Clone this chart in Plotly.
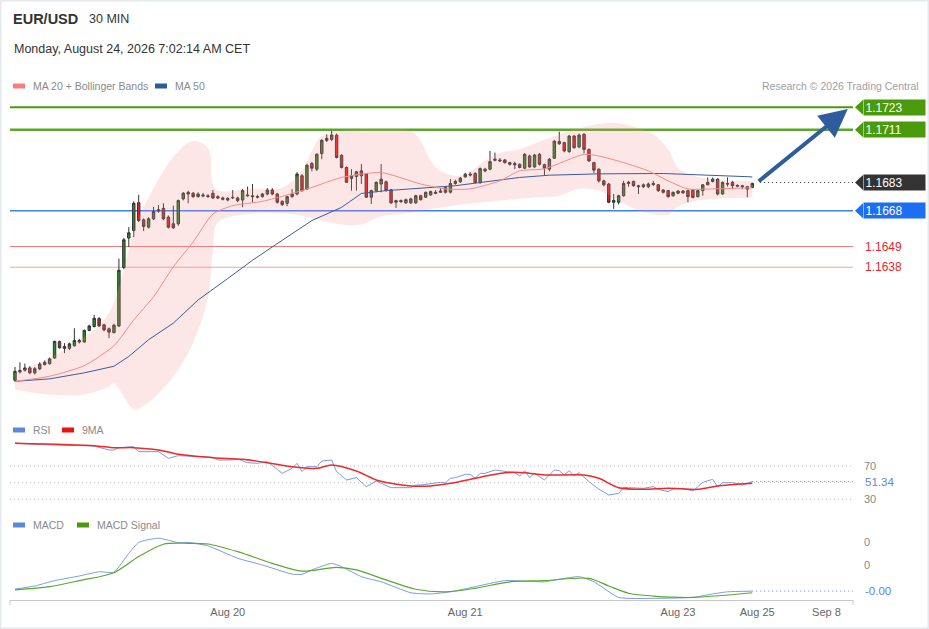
import plotly.graph_objects as go

W, H = 929, 629

# ---------------- data ----------------
candle_open = [1.15780,1.15824,1.15833,1.15845,1.15819,1.15840,1.15863,1.15868,1.15898,1.15985,
               1.15959,1.15949,1.15963,1.15991,1.15983,1.16044,1.16065,1.16107,1.16074,1.16053,
               1.16033,1.16068,1.16378,1.16535,1.16575,1.16723,1.16632,1.16593,1.16637,1.16678,
               1.16693,1.16646,1.16611,1.16611,1.16743,1.16778,1.16773,1.16755,1.16764,1.16760,
               1.16773,1.16755,1.16748,1.16746,1.16748,1.16748,1.16737,1.16764,1.16760,1.16752,
               1.16755,1.16769,1.16790,1.16769,1.16730,1.16720,1.16755,1.16769,1.16866,1.16795,
               1.16931,1.16901,1.16984,1.17054,1.17059,1.17081,1.16975,1.16910,1.16852,1.16862,
               1.16892,1.16875,1.16752,1.16787,1.16822,1.16834,1.16792,1.16725,1.16728,1.16722,
               1.16722,1.16722,1.16760,1.16752,1.16764,1.16772,1.16778,1.16804,1.16779,1.16825,
               1.16834,1.16860,1.16869,1.16878,1.16830,1.16901,1.16901,1.16948,1.16950,1.16950,
               1.16936,1.16931,1.16927,1.16906,1.16971,1.16913,1.16980,1.16925,1.16901,1.16959,
               1.17048,1.17042,1.16994,1.17077,1.17019,1.17086,1.17006,1.16936,1.16901,1.16839,
               1.16822,1.16725,1.16725,1.16760,1.16825,1.16836,1.16813,1.16808,1.16808,1.16818,
               1.16818,1.16790,1.16787,1.16760,1.16773,1.16785,1.16787,1.16790,1.16755,1.16787,
               1.16818,1.16836,1.16848,1.16769,1.16825,1.16831,1.16815,1.16813,1.16808,1.16804]
candle_high = [1.15850,1.15875,1.15868,1.15855,1.15850,1.15875,1.15885,1.15900,1.15990,1.15990,
               1.15977,1.15980,1.16056,1.16000,1.16050,1.16075,1.16127,1.16115,1.16080,1.16060,
               1.16080,1.16426,1.16535,1.16593,1.16730,1.16765,1.16640,1.16645,1.16700,1.16710,
               1.16720,1.16655,1.16707,1.16740,1.16780,1.16787,1.16780,1.16778,1.16775,1.16768,
               1.16790,1.16762,1.16755,1.16752,1.16790,1.16755,1.16795,1.16808,1.16822,1.16765,
               1.16775,1.16800,1.16800,1.16775,1.16735,1.16760,1.16795,1.16885,1.16875,1.16930,
               1.16940,1.16985,1.17060,1.17086,1.17104,1.17090,1.16980,1.16915,1.16901,1.16892,
               1.16928,1.16880,1.16792,1.16836,1.16928,1.16840,1.16796,1.16738,1.16740,1.16745,
               1.16750,1.16765,1.16765,1.16782,1.16787,1.16790,1.16800,1.16810,1.16848,1.16845,
               1.16860,1.16882,1.16885,1.16885,1.16910,1.16908,1.16998,1.16989,1.16960,1.16955,
               1.16940,1.16941,1.16932,1.16986,1.16978,1.16982,1.16986,1.16930,1.16960,1.17055,
               1.17100,1.17046,1.17082,1.17082,1.17090,1.17092,1.17010,1.16940,1.16905,1.16845,
               1.16828,1.16769,1.16765,1.16839,1.16839,1.16840,1.16818,1.16825,1.16830,1.16839,
               1.16822,1.16795,1.16790,1.16782,1.16790,1.16790,1.16792,1.16795,1.16792,1.16822,
               1.16857,1.16857,1.16852,1.16835,1.16857,1.16839,1.16820,1.16818,1.16812,1.16830]
candle_low = [1.15770,1.15815,1.15826,1.15812,1.15810,1.15833,1.15858,1.15862,1.15893,1.15948,
              1.15924,1.15940,1.15958,1.15975,1.15978,1.16040,1.16060,1.16062,1.16040,1.16003,
              1.16028,1.16062,1.16370,1.16487,1.16540,1.16620,1.16572,1.16585,1.16630,1.16670,
              1.16630,1.16585,1.16583,1.16600,1.16735,1.16720,1.16748,1.16750,1.16752,1.16750,
              1.16742,1.16742,1.16735,1.16730,1.16742,1.16725,1.16699,1.16755,1.16725,1.16745,
              1.16750,1.16762,1.16762,1.16718,1.16705,1.16705,1.16750,1.16762,1.16780,1.16790,
              1.16890,1.16890,1.16954,1.17045,1.17050,1.16958,1.16905,1.16828,1.16787,1.16787,
              1.16822,1.16748,1.16716,1.16778,1.16778,1.16782,1.16716,1.16695,1.16722,1.16716,
              1.16716,1.16716,1.16734,1.16748,1.16760,1.16768,1.16775,1.16772,1.16772,1.16818,
              1.16828,1.16855,1.16862,1.16825,1.16822,1.16885,1.16895,1.16942,1.16940,1.16930,
              1.16920,1.16901,1.16905,1.16901,1.16908,1.16908,1.16920,1.16866,1.16890,1.16955,
              1.17030,1.16990,1.16988,1.17010,1.17012,1.16985,1.16940,1.16880,1.16830,1.16810,
              1.16720,1.16690,1.16713,1.16755,1.16808,1.16808,1.16769,1.16800,1.16800,1.16813,
              1.16780,1.16772,1.16750,1.16755,1.16768,1.16770,1.16725,1.16745,1.16750,1.16760,
              1.16815,1.16830,1.16762,1.16765,1.16808,1.16795,1.16805,1.16795,1.16751,1.16800]
candle_close = [1.15827,1.15831,1.15845,1.15819,1.15841,1.15866,1.15875,1.15893,1.15986,1.15952,
                1.15949,1.15973,1.15991,1.15983,1.16044,1.16068,1.16109,1.16068,1.16047,1.16035,
                1.16072,1.16364,1.16526,1.16563,1.16720,1.16628,1.16597,1.16637,1.16676,1.16685,
                1.16637,1.16593,1.16590,1.16734,1.16773,1.16769,1.16755,1.16769,1.16759,1.16755,
                1.16748,1.16748,1.16741,1.16737,1.16751,1.16734,1.16787,1.16760,1.16755,1.16755,
                1.16769,1.16790,1.16769,1.16725,1.16713,1.16755,1.16769,1.16875,1.16787,1.16922,
                1.16906,1.16980,1.17054,1.17065,1.17082,1.16963,1.16910,1.16831,1.16866,1.16887,
                1.16866,1.16752,1.16787,1.16831,1.16848,1.16787,1.16722,1.16734,1.16734,1.16739,
                1.16743,1.16760,1.16739,1.16778,1.16782,1.16778,1.16785,1.16778,1.16825,1.16836,
                1.16853,1.16874,1.16874,1.16830,1.16904,1.16892,1.16941,1.16954,1.16945,1.16936,
                1.16927,1.16924,1.16910,1.16980,1.16913,1.16976,1.16927,1.16906,1.16954,1.17050,
                1.17036,1.16998,1.17077,1.17015,1.17082,1.17006,1.16945,1.16896,1.16839,1.16818,
                1.16725,1.16735,1.16760,1.16825,1.16831,1.16813,1.16808,1.16818,1.16822,1.16825,
                1.16787,1.16778,1.16755,1.16778,1.16785,1.16775,1.16755,1.16751,1.16787,1.16818,
                1.16831,1.16848,1.16769,1.16831,1.16822,1.16813,1.16811,1.16808,1.16795,1.16825]
candle_idx = list(range(len(candle_close)))

ma20_idx = [0,7,14,20,24,28,32,36,40,44,50,55,60,66,74,82,87,92,98,102,107,115,118,123,128,132,136,141,149]
ma20_val = [1.15774,1.15801,1.15857,1.15963,1.16100,1.16223,1.16382,1.16514,1.16663,1.16707,1.16730,
            1.16764,1.16804,1.16857,1.16883,1.16822,1.16796,1.16796,1.16839,1.16892,1.16903,1.16980,
            1.16971,1.16936,1.16892,1.16839,1.16796,1.16796,1.16802]

ma50_idx = [0,7,14,20,23,27,32,37,43,48,54,60,66,70,75,82,89,94,102,108,118,131,141,149]
ma50_val = [1.15774,1.15787,1.15819,1.15854,1.15906,1.15995,1.16083,1.16206,1.16320,1.16417,1.16523,
            1.16628,1.16698,1.16772,1.16787,1.16799,1.16813,1.16830,1.16857,1.16869,1.16876,1.16878,
            1.16869,1.16860]

bb_up_idx = [0,7,14,19,23,24,27,32,36,39,40,41,48,54,58,60,62,66,74,80,82,84,86,90,95,98,102,108,
             114,121,126,129,132,134,138,149]
bb_up_val = [1.15820,1.15899,1.16010,1.16137,1.16475,1.16575,1.16750,1.16966,1.17050,1.17014,1.16818,
             1.16787,1.16797,1.16802,1.16892,1.16998,1.17077,1.17103,1.17114,1.17103,1.17050,1.16945,
             1.16892,1.16866,1.16945,1.16987,1.17008,1.17066,1.17119,1.17146,1.17119,1.17087,1.17008,
             1.16908,1.16860,1.16839]

bb_lo_idx = [0,7,14,19,20,23,24,27,32,36,39,40,41,48,54,58,62,66,70,74,80,86,92,98,105,110,114,118,
             122,126,132,134,138,149]
bb_lo_val = [1.15731,1.15704,1.15704,1.15746,1.15762,1.15651,1.15625,1.15662,1.15799,1.15979,1.16222,
             1.16470,1.16618,1.16665,1.16665,1.16654,1.16628,1.16607,1.16607,1.16649,1.16670,1.16697,
             1.16718,1.16734,1.16750,1.16760,1.16797,1.16787,1.16734,1.16681,1.16660,1.16702,1.16734,
             1.16750]

rsi_idx = [0,4,8,16,19,20,21,24,25,29,31,33,36,40,41,44,45,47,49,51,54,56,57,58,59,61,62,64,65,67,69,
           71,73,76,80,81,82,84,86,87,88,89,91,92,93,94,95,97,99,101,102,103,104,105,107,109,110,111,
           112,113,114,116,118,120,122,123,124,127,129,130,132,133,135,137,139,141,142,143,145,147,149]
rsi_val = [97.3,96.1,95.2,94.0,89.2,89.2,92.0,93.2,87.2,87.2,79.2,82.4,81.2,80.4,77.2,77.2,78.4,74.0,
           73.2,75.2,61.2,67.2,73.2,63.2,69.2,69.2,76.0,77.2,63.2,53.2,56.0,45.2,52.0,44.0,44.0,47.2,
           47.2,49.2,50.4,49.9,55.2,56.0,60.0,60.0,55.2,61.2,61.2,65.2,63.2,62.0,58.0,64.4,56.0,61.2,
           53.2,65.2,64.4,59.2,64.4,58.4,62.0,51.2,42.4,35.2,37.2,44.4,44.0,43.2,45.2,42.0,39.2,42.4,
           43.2,40.0,50.4,54.0,45.2,50.0,50.0,47.2,51.34]

rsima_idx = [0,16,20,24,29,33,40,46,51,56,61,64,69,73,76,80,84,88,93,97,99,103,107,115,118,122,127,
             132,138,142,149]
rsima_val = [97.3,94.4,92.0,92.0,89.2,84.0,80.0,78.0,74.0,69.2,67.2,71.2,64.0,53.2,49.2,46.0,46.0,49.2,
             55.2,60.0,62.0,62.0,59.2,59.2,55.2,44.0,42.0,43.2,42.0,46.0,49.2]

macd_idx = [0,4,8,13,17,20,23,25,29,33,35,39,45,50,56,58,60,64,66,70,74,80,84,88,93,99,107,110,114,
            117,122,129,137,141,144,149]
macd_val = [-0.00003,0.00010,0.00033,0.00053,0.00071,0.00069,0.00150,0.00197,0.00215,0.00196,0.00197,
            0.00182,0.00129,0.00100,0.00061,0.00060,0.00079,0.00107,0.00093,0.00050,0.00028,-0.00019,
            -0.00024,-0.00015,0.00007,0.00033,0.00028,0.00039,0.00050,0.00028,-0.00039,-0.00043,
            -0.00039,-0.00024,-0.00015,-0.00012]

signal_idx = [0,7,13,20,25,30,35,39,45,52,58,65,69,75,81,87,93,100,107,116,120,124,129,137,149]
signal_val = [-0.00007,0.00007,0.00033,0.00067,0.00136,0.00189,0.00193,0.00190,0.00157,0.00107,0.00074,
              0.00090,0.00079,0.00036,-0.00004,-0.00015,0.00000,0.00028,0.00033,0.00043,0.00010,
              -0.00021,-0.00033,-0.00039,-0.00019]

level_values = [1.1723, 1.1711, 1.1683, 1.1668, 1.1649, 1.1638]
level_labels = ["1.1723", "1.1711", "1.1683", "1.1668", "1.1649", "1.1638"]

tick_idx = [43, 91, 134, 150, 164]
tick_text = ["Aug 20", "Aug 21", "Aug 23", "Aug 25", "Sep 8"]

rsi_ticks = [70, 30]
rsi_grid = [70, 50, 30]
macd_ticks = [0.002, 0.001]
macd_tick_text = ["0", "0"]
target_idx, target_price = 168.3, 1.1722

# ---------------- styling ----------------
FONT = "Liberation Sans, Arial, sans-serif"
def px(x): return x / W
def py(y): return 1 - y / H

X_DOM = [px(10), px(853)]
X_RANGE = [-1.01, 169.36]
Y_RANGE = [1.15595, 1.17295]
level_line = [("#4a9a0c", 2.2), ("#5aa82a", 2.6), (None, 0), ("#3d7ef0", 1.5), ("#f07a7a", 1), ("#f5a5a5", 1.2)]
level_box = ["#4a9a0c", "#4a9a0c", "#333333", "#1c6ef2", None, None]
BLUE_IND = "#5b86e5"

fig = go.Figure()

# Bollinger band fill
fig.add_trace(go.Scatter(x=bb_lo_idx, y=bb_lo_val, mode="lines", line=dict(width=0, shape="spline"),
                         hoverinfo="skip", showlegend=False, xaxis="x", yaxis="y"))
fig.add_trace(go.Scatter(x=bb_up_idx, y=bb_up_val, mode="lines", line=dict(width=0, shape="spline"),
                         fill="tonexty", fillcolor="rgba(248,140,140,0.22)",
                         hoverinfo="skip", showlegend=False, xaxis="x", yaxis="y"))
fig.add_trace(go.Scatter(x=ma50_idx, y=ma50_val, mode="lines", line=dict(width=1, color="#3b5c9c"),
                         hoverinfo="skip", showlegend=False, xaxis="x", yaxis="y"))
fig.add_trace(go.Scatter(x=ma20_idx, y=ma20_val, mode="lines",
                         line=dict(width=1, color="#f58a8a", shape="spline", smoothing=0.6),
                         hoverinfo="skip", showlegend=False, xaxis="x", yaxis="y"))
fig.add_trace(go.Candlestick(x=candle_idx, open=candle_open, high=candle_high, low=candle_low,
                             close=candle_close, whiskerwidth=0,
                             increasing=dict(line=dict(color="#333333", width=1), fillcolor="#2a8a2a"),
                             decreasing=dict(line=dict(color="#333333", width=1), fillcolor="#f01818"),
                             showlegend=False, hoverinfo="skip", xaxis="x", yaxis="y"))

# RSI
fig.add_trace(go.Scatter(x=rsi_idx, y=rsi_val, mode="lines", line=dict(width=1, color="#7b9be6"),
                         hoverinfo="skip", showlegend=False, xaxis="x2", yaxis="y2"))
fig.add_trace(go.Scatter(x=rsima_idx, y=rsima_val, mode="lines",
                         line=dict(width=1.5, color="#f02828", shape="spline", smoothing=0.7),
                         hoverinfo="skip", showlegend=False, xaxis="x2", yaxis="y2"))
# MACD
fig.add_trace(go.Scatter(x=macd_idx, y=macd_val, mode="lines",
                         line=dict(width=1, color="#7b9be6", shape="spline", smoothing=0.5),
                         hoverinfo="skip", showlegend=False, xaxis="x3", yaxis="y3"))
fig.add_trace(go.Scatter(x=signal_idx, y=signal_val, mode="lines",
                         line=dict(width=1.2, color="#5aa82a", shape="spline", smoothing=0.8),
                         hoverinfo="skip", showlegend=False, xaxis="x3", yaxis="y3"))

shapes = []
annotations = []

# frame
shapes.append(dict(type="rect", xref="paper", yref="paper", x0=0, x1=1, y0=0, y1=1,
                   line=dict(color="#e4e9ee", width=3), layer="below"))

HALF = 7.5 / 18824.0
for val, lab, (lc, lw), bc in zip(level_values, level_labels, level_line, level_box):
    if lc is not None:
        shapes.append(dict(type="line", xref="x domain", yref="y", x0=0, x1=1, y0=val, y1=val,
                           line=dict(color=lc, width=lw), layer="below"))
    if bc is not None:
        shapes.append(dict(type="path", xref="paper", yref="y",
                           path=f"M{px(863)},{val + HALF} L{px(855)},{val} L{px(863)},{val - HALF} Z",
                           fillcolor=bc, line=dict(width=0)))
        annotations.append(dict(xref="paper", yref="y", x=px(863), y=val, xanchor="left", yanchor="middle",
                                text=lab, showarrow=False, bgcolor=bc, width=58, height=12, borderpad=1.5,
                                align="left", font=dict(family=FONT, size=12, color="white")))
    else:
        annotations.append(dict(xref="paper", yref="y", x=px(863), y=val, xanchor="left", yanchor="middle",
                                text=lab, showarrow=False,
                                font=dict(family=FONT, size=12, color="#e8262b")))

# last price dotted line
shapes.append(dict(type="line", xref="x", yref="y", x0=150.6, x1=X_RANGE[1], y0=level_values[2],
                   y1=level_values[2], line=dict(color="#333333", width=1, dash="1px,3px")))

# RSI grid
for g in rsi_grid:
    shapes.append(dict(type="line", xref="x2 domain", yref="y2", x0=0, x1=1, y0=g, y1=g,
                       line=dict(color="#bbbbbb", width=1, dash="1px,3px"), layer="below"))
shapes.append(dict(type="line", xref="x2", yref="y2", x0=rsi_idx[-1], x1=X_RANGE[1], y0=rsi_val[-1],
                   y1=rsi_val[-1], line=dict(color=BLUE_IND, width=1, dash="1px,3px")))
shapes.append(dict(type="line", xref="x3", yref="y3", x0=macd_idx[-1], x1=X_RANGE[1], y0=macd_val[-1],
                   y1=macd_val[-1], line=dict(color=BLUE_IND, width=1, dash="1px,3px")))
# end ticks on bottom axis
for xx in (0, 1):
    shapes.append(dict(type="line", xref="x3 domain", yref="paper", x0=xx, x1=xx, y0=py(600), y1=py(605),
                       line=dict(color="#c8c8c8", width=1)))

# legends
def swatch(x0, y, color):
    shapes.append(dict(type="rect", xref="paper", yref="paper", x0=px(x0), x1=px(x0 + 12),
                       y0=py(y + 2.5), y1=py(y - 2.5), fillcolor=color, line=dict(width=0)))

def txt(x, y, s, size=10.5, color="#8a8a8a", anchor="left", bold=False):
    annotations.append(dict(xref="paper", yref="paper", x=px(x), y=py(y), xanchor=anchor, yanchor="middle",
                            text=f"<b>{s}</b>" if bold else s, showarrow=False,
                            font=dict(family=FONT, size=size, color=color)))

txt(11, 19, "EUR/USD", size=14.5, color="#333333", bold=True)
txt(87, 19, "30 MIN", size=12.5, color="#333333")
txt(12, 49, "Monday, August 24, 2026 7:02:14 AM CET", size=12.5, color="#333333")
swatch(13, 86, "#ff7b7b"); txt(31, 86, "MA 20 + Bollinger Bands")
swatch(155, 86, "#2d5a9b"); txt(173, 86, "MA 50")
txt(921, 86, "Research © 2026 Trading Central", color="#a0a0a0", anchor="right")
swatch(13, 430, BLUE_IND); txt(31, 430, "RSI")
swatch(62, 430, "#ee1111"); txt(80, 430, "9MA")
swatch(13, 525, BLUE_IND); txt(31, 525, "MACD")
swatch(77, 525, "#4a9a0c"); txt(95, 525, "MACD Signal")

annotations.append(dict(xref="paper", yref="y2", x=px(863), y=rsi_val[-1], xanchor="left", yanchor="middle",
                        text=f"{rsi_val[-1]:.2f}", showarrow=False,
                        font=dict(family=FONT, size=11.5, color=BLUE_IND)))
annotations.append(dict(xref="paper", yref="y3", x=px(863), y=macd_val[-1], xanchor="left", yanchor="middle",
                        text=f"{macd_val[-1]:.2f}", showarrow=False,
                        font=dict(family=FONT, size=11.5, color=BLUE_IND)))

# forecast arrow
annotations.append(dict(xref="x", yref="y", axref="x", ayref="y", x=target_idx, y=target_price,
                        ax=150.0, ay=level_values[2], text="", showarrow=True, arrowhead=2,
                        arrowsize=1.4, arrowwidth=4, arrowcolor="#2f5c9c"))

axis_common = dict(domain=X_DOM, range=X_RANGE, showgrid=False, zeroline=False, fixedrange=True)
fig.update_layout(
    width=W, height=H, margin=dict(l=0, r=0, t=0, b=0),
    paper_bgcolor="white", plot_bgcolor="white", showlegend=False,
    font=dict(family=FONT),
    xaxis=dict(**axis_common, anchor="y", showticklabels=False, rangeslider=dict(visible=False)),
    xaxis2=dict(**axis_common, anchor="y2", showticklabels=False),
    xaxis3=dict(**axis_common, anchor="y3", showline=True, linecolor="#c8c8c8", linewidth=1,
                tickmode="array", tickvals=tick_idx, ticktext=tick_text, ticks="",
                ticklabelstandoff=2, tickfont=dict(size=11, color="#666666"), automargin=False),
    yaxis=dict(domain=[py(415), py(95)], range=Y_RANGE, visible=False, fixedrange=True),
    yaxis2=dict(domain=[py(505), py(440)], range=[23.2, 101.2], anchor="x2", side="right",
                tickmode="array", tickvals=rsi_ticks, showgrid=False, zeroline=False, ticks="",
                ticklabelstandoff=10, tickfont=dict(size=11, color="#888888"), automargin=False,
                fixedrange=True),
    yaxis3=dict(domain=[py(600), py(530)], range=[-0.0005, 0.0025], anchor="x3", side="right",
                tickmode="array", tickvals=macd_ticks, ticktext=macd_tick_text, showgrid=False,
                zeroline=False, ticks="", ticklabelstandoff=10, tickfont=dict(size=11, color="#888888"),
                automargin=False, fixedrange=True),
    shapes=shapes, annotations=annotations,
)

fig.write_html("out.html", config={"displayModeBar": False},
               post_script="document.body.style.margin='0px';document.body.style.overflow='hidden';")
